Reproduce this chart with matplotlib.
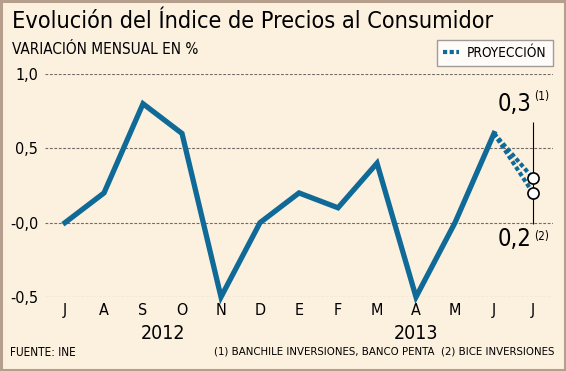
import matplotlib
matplotlib.use('Agg')
import matplotlib.pyplot as plt
from matplotlib.patches import Rectangle
from matplotlib.lines import Line2D

# datos
meses = ['J', 'A', 'S', 'O', 'N', 'D', 'E', 'F', 'M', 'A', 'M', 'J', 'J']
ipc = [0.0, 0.2, 0.8, 0.6, -0.5, 0.0, 0.2, 0.1, 0.4, -0.5, 0.0, 0.6]
proy_1 = 0.3   # Banchile, Banco Penta
proy_2 = 0.2   # Bice
anios = ['2012', '2013']
anio_idx = [(0, 5), (6, 12)]
yticks = [-0.5, 0.0, 0.5, 1.0]
ytick_labels = ['-0,5', '-0,0', '0,5', '1,0']

AZUL = '#0f6a97'
FONDO = '#fcf0df'
BORDE = '#b59e8c'
FS = 'condensed'

W, H = 566, 371
fig = plt.figure(figsize=(W / 100, H / 100), dpi=100, facecolor=FONDO)
fig.patches.append(Rectangle((0.002, 0.003), 0.996, 0.994, transform=fig.transFigure,
                             fill=False, edgecolor=BORDE, linewidth=2.2))

ax = fig.add_axes([45 / W, (H - 297) / H, 508 / W, 223 / H])
ax.set_facecolor(FONDO)
for s in ax.spines.values():
    s.set_visible(False)

x = list(range(len(ipc)))
ax.plot(x, ipc, color=AZUL, linewidth=3.8, solid_joinstyle='miter', clip_on=False, zorder=3)

# proyecciones
xl = len(meses) - 1
for v in (proy_1, proy_2):
    ax.plot([x[-1], xl], [ipc[-1], v], color=AZUL, linewidth=3.0, dashes=(1.0, 0.6),
            clip_on=False, zorder=3)
ax.vlines(xl, proy_2 - 0.21, proy_1 + 0.38, color='black', linewidth=0.8, zorder=2)
ax.plot([xl, xl], [proy_1, proy_2], 'o', ms=8, mfc='white', mec='black', mew=1.2,
        clip_on=False, zorder=4)
ax.text(xl - 0.05, proy_1 + 0.42, '0,3', ha='right', va='bottom', fontsize=17,
        fontstretch=FS)
ax.text(xl + 0.02, proy_1 + 0.55, '(1)', ha='left', va='center', fontsize=8.5, fontstretch=FS)
ax.text(xl - 0.05, proy_2 - 0.23, '0,2', ha='right', va='top', fontsize=17, fontstretch=FS)
ax.text(xl + 0.02, proy_2 - 0.29, '(2)', ha='left', va='center', fontsize=8.5, fontstretch=FS)

ax.set_xlim(-20 / 39, len(meses) - 1 + 20 / 39)
ax.set_ylim(-0.5, 1.0)
ax.set_yticks(yticks)
ax.set_yticklabels(ytick_labels, fontsize=11.5, fontstretch=FS)
ax.set_xticks(range(len(meses)))
ax.set_xticklabels(meses, fontsize=11.5, fontstretch=FS)
ax.tick_params(length=0, pad=4)
ax.tick_params(axis='y', pad=5)
ax.grid(axis='y', color='#6e6a66', linestyle=(0, (2.5, 1.5)), linewidth=0.8)
ax.set_axisbelow(True)

for nombre, (a, b) in zip(anios, anio_idx):
    ax.text((a + b) / 2, -0.5 - 36 / 148, nombre, ha='center', va='center',
            fontsize=14, fontstretch=FS)

fig.text(12 / W, 1 - 22 / H, 'Evolución del Índice de Precios al Consumidor',
         fontsize=16.8, fontstretch=FS, va='center', ha='left')
fig.text(12 / W, 1 - 49 / H, 'VARIACIÓN MENSUAL EN %', fontsize=11, fontstretch=FS,
         va='center', ha='left')
fig.text(10 / W, 1 - 352 / H, 'FUENTE: INE', fontsize=8.5, fontstretch=FS,
         va='center', ha='left')
fig.text(554 / W, 1 - 352 / H, '(1) BANCHILE INVERSIONES, BANCO PENTA  (2) BICE INVERSIONES',
         fontsize=8.2, fontstretch=FS, va='center', ha='right')

h = Line2D([], [], color=AZUL, linewidth=3.0, dashes=(1.0, 0.6))
leg = fig.legend([h], ['PROYECCIÓN'], loc='upper right',
                 bbox_to_anchor=(553 / W, 1 - 40 / H), frameon=True, fancybox=False,
                 borderaxespad=0, handlelength=1.2, handletextpad=0.6, borderpad=0.45,
                 prop={'size': 9.8, 'stretch': FS})
leg.get_frame().set_edgecolor('#8a8580')
leg.get_frame().set_linewidth(1.0)
leg.get_frame().set_facecolor('white')

fig.savefig('out.png', dpi=100, facecolor=FONDO)
